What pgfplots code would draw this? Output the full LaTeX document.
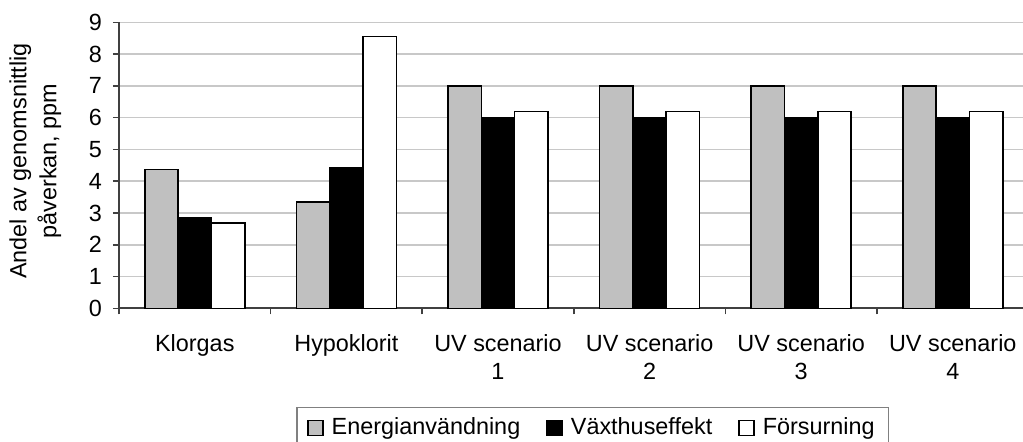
\documentclass[border=0pt]{standalone}
\usepackage{pgfplots}
\pgfplotsset{compat=1.18}
\usepackage{fontspec}
\setmainfont{Liberation Sans}
\definecolor{barGray}{HTML}{C0C0C0}
\definecolor{gridGray}{HTML}{C8C8C8}
\definecolor{axisGray}{HTML}{404040}

\pgfplotsset{
  sqlegend/.style={legend image code/.code={\draw[##1] (0pt,-3.75pt) rectangle (7.5pt,3.75pt);}},
}

\begin{document}
\fontsize{11.7}{14}\selectfont
\begin{tikzpicture}
\begin{axis}[
    at={(0,0)}, anchor=south west,
    scale only axis,
    width=454.8pt, height=143pt,
    ybar=0pt, bar width=0.22,
    xmin=-0.5, xmax=5.5,
    ymin=0, ymax=9,
    axis x line*=bottom, axis y line*=left,
    axis line style={-, draw=axisGray, line width=0.9pt},
    tick align=outside,
    xtick={0,...,5},
    xticklabels={Klorgas, Hypoklorit, {UV scenario\\1}, {UV scenario\\2}, {UV scenario\\3}, {UV scenario\\4}},
    major x tick style={draw=none},
    minor xtick={-0.5,0.5,...,5.5},
    minor tick length=3pt,
    major tick length=3pt,
    tick style={draw=axisGray, line width=0.8pt},
    x tick label style={align=center, yshift=-6pt, font=\fontsize{11.7}{14}\selectfont},
    ytick={0,...,9},
    y tick label style={xshift=-1.5pt},
    /pgf/number format/assume math mode=true,
    ymajorgrids,
    grid style={gridGray, line width=0.8pt},
    ylabel={Andel av genomsnittlig\\påverkan, ppm},
    ylabel style={align=center, at={(rel axis cs:-0.0920,0.515)}, anchor=center,
        font=\fontsize{11.7}{15}\selectfont},
    legend columns=3,
    legend style={at={(rel axis cs:0.521,-0.345)}, anchor=north,
        draw=gray, line width=0.6pt, inner ysep=3pt, inner xsep=5pt,
        /tikz/every odd column/.append style={column sep=2pt},
        /tikz/every even column/.append style={column sep=11pt}},
    legend cell align={left},
]
\addplot[fill=barGray, draw=black, line width=0.8pt, sqlegend]
  coordinates {(0,4.37) (1,3.35) (2,7.0) (3,7.0) (4,7.0) (5,7.0)};
\addlegendentry{Energianvändning}
\addplot[fill=black, draw=black, line width=0.8pt, sqlegend]
  coordinates {(0,2.86) (1,4.43) (2,6.0) (3,6.0) (4,6.0) (5,6.0)};
\addlegendentry{Växthuseffekt}
\addplot[fill=white, draw=black, line width=0.8pt, sqlegend]
  coordinates {(0,2.69) (1,8.55) (2,6.2) (3,6.2) (4,6.2) (5,6.2)};
\addlegendentry{Försurning}
\end{axis}
\pgfresetboundingbox
\path (-59.5pt,-66.35pt) rectangle (452pt,154.15pt);
\end{tikzpicture}
\end{document}
